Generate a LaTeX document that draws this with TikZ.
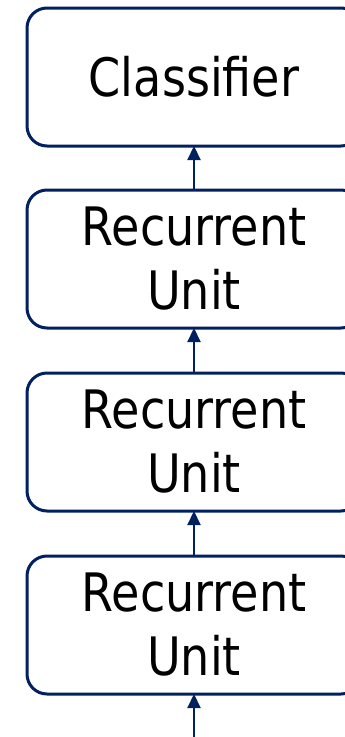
\documentclass[tikz,border=0pt]{standalone}
\usepackage{fontspec}
\setmainfont[FakeStretch=0.87]{DejaVu Sans}
\usetikzlibrary{arrows.meta}
\definecolor{navy}{HTML}{002060}
\tikzset{
  layerbox/.style={draw=navy, line width=3pt, rounded corners=20pt, fill=white,
    minimum width=334pt, minimum height=138pt, inner sep=0pt, outer sep=0pt,
    anchor=north west, align=center, font=\fontsize{53}{64}\selectfont, text=black},
  flow/.style={draw=navy, line width=2.2pt, -{Triangle[length=14pt,width=13pt]}}
}
\begin{document}
\begin{tikzpicture}[x=1pt,y=1pt]
  \useasboundingbox (0,0) rectangle (345,-737);
  % stack of layers, bottom to top
  \node[layerbox] (cls) at (27,-8) {Classifier};
  \node[layerbox] (ru1) at (27,-190) {Recurrent\\Unit};
  \node[layerbox] (ru2) at (27,-373) {Recurrent\\Unit};
  \node[layerbox] (ru3) at (27,-556) {Recurrent\\Unit};
  % input enters from below the last layer
  \path (ru3.south) ++(0,-50) coordinate (in);
  \draw[flow] (in) -- (ru3.south);
  \draw[flow] (ru3.north) -- (ru2.south);
  \draw[flow] (ru2.north) -- (ru1.south);
  \draw[flow] (ru1.north) -- (cls.south);
\end{tikzpicture}
\end{document}
